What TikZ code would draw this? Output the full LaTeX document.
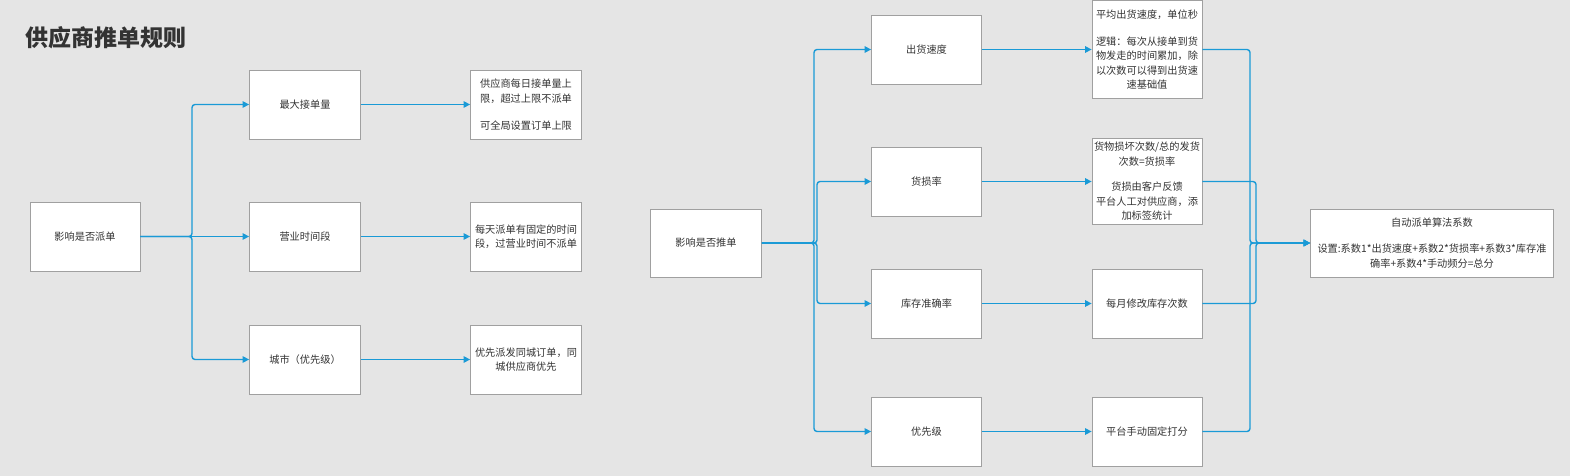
\documentclass[tikz,border=0pt]{standalone}
\usepackage{fontspec}
\setmainfont{Noto Sans CJK SC}
\usetikzlibrary{arrows.meta}
\definecolor{bgcol}{HTML}{E5E5E5}
\definecolor{linecol}{HTML}{1A9AD6}
\definecolor{txtcol}{HTML}{333333}
\definecolor{boxline}{HTML}{A0A0A0}
\begin{document}
\begin{tikzpicture}[x=1pt,y=-1pt,
  box/.style={draw=boxline,fill=white,line width=0.8pt,text=txtcol,align=center,
    inner sep=2pt,font=\fontsize{10.2}{14.5}\selectfont},
  flow/.style={draw=linecol,line width=1.4pt,rounded corners=3pt,
    -{Triangle[length=6.5pt,width=6.5pt]}}]
  \fill[bgcol] (0,0) rectangle (1570,476);
  \useasboundingbox (0,0) rectangle (1570,476);

  \node [anchor=west,text=txtcol,font=\fontsize{23}{26}\selectfont\bfseries] (title) at (22,38) {供应商推单规则};

  % left part
  \node [box,minimum width=110pt,minimum height=69pt] (root1) at (85,236.5) {影响是否派单};
  \node [box,minimum width=111pt,minimum height=69pt] (max) at (305,104.5) {最大接单量};
  \node [box,minimum width=111pt,minimum height=69pt] (hours) at (305,236.5) {营业时间段};
  \node [box,minimum width=111pt,minimum height=69pt] (city) at (305,359.5) {城市（优先级）};
  \node [box,minimum width=111pt,minimum height=69pt] (maxd) at (526,104.5) {供应商每日接单量上\\限，超过上限不派单\\[12.5pt]可全局设置订单上限};
  \node [box,minimum width=111pt,minimum height=69pt] (hoursd) at (526,236.5) {每天派单有固定的时间\\段，过营业时间不派单};
  \node [box,minimum width=111pt,minimum height=69pt] (cityd) at (526,359.5) {优先派发同城订单，同\\城供应商优先};
  \coordinate (lj) at (192,236.5);

  \draw [flow] (root1.east) -- (lj) |- (max.west);
  \draw [flow] (root1.east) -- (hours.west);
  \draw [flow] (root1.east) -- (lj) |- (city.west);
  \draw [flow] (max.east) -- (maxd.west);
  \draw [flow] (hours.east) -- (hoursd.west);
  \draw [flow] (city.east) -- (cityd.west);

  % right part
  \node [box,minimum width=111pt,minimum height=68pt] (root2) at (706,243) {影响是否推单};
  \node [box,minimum width=110pt,minimum height=69pt] (speed) at (926.5,49.5) {出货速度};
  \node [box,minimum width=110pt,minimum height=69pt] (damage) at (926.5,181.5) {货损率};
  \node [box,minimum width=110pt,minimum height=69pt] (stock) at (926.5,303.5) {库存准确率};
  \node [box,minimum width=110pt,minimum height=69pt] (prio) at (926.5,431.5) {优先级};
  \node [box,minimum width=110pt,minimum height=98pt] (speedd) at (1147,49.5) {平均出货速度，单位秒\\[12.5pt]逻辑：每次从接单到货\\物发走的时间累加，除\\以次数可以得到出货速\\速基础值};
  \node [box,minimum width=110pt,minimum height=86pt] (damaged) at (1147,181.5) {货物损坏次数/总的发货\\次数=货损率\\[11pt]货损由客户反馈\\平台人工对供应商，添\\加标签统计};
  \node [box,minimum width=110pt,minimum height=69pt] (stockd) at (1147,303.5) {每月修改库存次数};
  \node [box,minimum width=110pt,minimum height=69pt] (priod) at (1147,431.5) {平台手动固定打分};
  \node [box,minimum width=243pt,minimum height=68pt] (score) at (1432,243) {自动派单算法系数\\[12pt]设置:系数1*出货速度+系数2*货损率+系数3*库存准\\确率+系数4*手动频分=总分};
  \coordinate (rj1) at (814,243);
  \coordinate (rj2) at (817,243);
  \coordinate (sj1) at (1250,243);
  \coordinate (sj2) at (1256,243);

  \draw [flow] (root2.east) -- (rj1) |- (speed.west);
  \draw [flow] (root2.east) -- (rj2) |- (damage.west);
  \draw [flow] (root2.east) -- (rj2) |- (stock.west);
  \draw [flow] (root2.east) -- (rj1) |- (prio.west);
  \draw [flow] (speed.east) -- (speedd.west);
  \draw [flow] (damage.east) -- (damaged.west);
  \draw [flow] (stock.east) -- (stockd.west);
  \draw [flow] (prio.east) -- (priod.west);
  \draw [flow] (speedd.east) -- (speedd.east -| sj1) -- (sj1) -- (score.west);
  \draw [flow] (damaged.east) -- (damaged.east -| sj2) -- (sj2) -- (score.west);
  \draw [flow] (stockd.east) -- (stockd.east -| sj2) -- (sj2) -- (score.west);
  \draw [flow] (priod.east) -- (priod.east -| sj1) -- (sj1) -- (score.west);
\end{tikzpicture}
\end{document}
